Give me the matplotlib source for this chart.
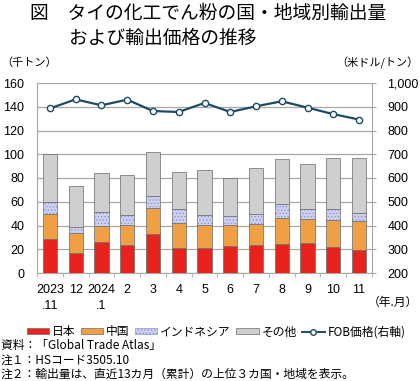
import numpy as np
import matplotlib
matplotlib.use('Agg')
import matplotlib.pyplot as plt
from matplotlib.patches import Patch
from matplotlib.lines import Line2D

plt.rcParams['font.family'] = ['Liberation Sans', 'Noto Sans CJK JP', 'DejaVu Sans']
plt.rcParams['hatch.linewidth'] = 0.6

months = ['2023\n.11', '12', '2024\n.1', '2', '3', '4', '5', '6', '7', '8', '9', '10', '11']
japan = [28.4, 16.8, 26.1, 23.3, 32.8, 21.1, 20.8, 22.5, 23.9, 24.7, 25.3, 22.2, 19.4]
china = [21.6, 16.6, 13.2, 17.4, 21.7, 20.7, 19.6, 17.6, 17.1, 21.9, 19.9, 22.2, 24.1]
indonesia = [9.8, 5.3, 12.3, 8.4, 10.6, 12.1, 8.2, 7.6, 8.4, 11.2, 9.0, 9.8, 6.7]
others = [40.4, 34.8, 32.3, 33.1, 37.1, 31.4, 38.1, 32.6, 39.0, 37.9, 37.9, 42.4, 46.9]
fob = [893, 931, 906, 930, 882, 878, 916, 878, 902, 923, 896, 869, 846]

W, H = 420, 381
fig = plt.figure(figsize=(W / 100, H / 100), dpi=100)

def px(x, y):
    return x / W, 1 - y / H

left, right, top, bottom = 37, 372, 83, 273
ax = fig.add_axes([left / W, 1 - bottom / H, (right - left) / W, (bottom - top) / H])

x = np.arange(len(months))
bw = 0.55
edge = '#6a6a6a'
b1 = np.array(japan)
b2 = b1 + np.array(china)
b3 = b2 + np.array(indonesia)
ax.bar(x, japan, bw, color='#e8221c', edgecolor=edge, linewidth=0.5, zorder=3)
ax.bar(x, china, bw, bottom=b1, color='#f0a044', edgecolor=edge, linewidth=0.5, zorder=3)
ax.bar(x, indonesia, bw, bottom=b2, color='#cdd0ee', edgecolor=edge, linewidth=0.5, zorder=3)
ax.bar(x, indonesia, bw, bottom=b2, fill=False, hatch='.....', edgecolor='#8e95d0', linewidth=0, zorder=3)
ax.bar(x, others, bw, bottom=b3, color='#cfcfcf', edgecolor=edge, linewidth=0.5, zorder=3)

ax.set_xlim(-0.5, len(months) - 0.5)
ax.set_ylim(0, 160)
ax.set_yticks(np.arange(0, 161, 20))
ax.grid(axis='y', color='#a8a8a8', linewidth=0.9, zorder=0)
ax.set_xticks(x)
ax.set_xticklabels(months, linespacing=1.45, fontsize=9)
ax.set_xticks(np.arange(-0.5, len(months), 1), minor=True)
ax.tick_params(axis='x', which='major', length=0, pad=8)
ax.tick_params(axis='x', which='minor', length=3, color='#a8a8a8')
ax.tick_params(axis='y', length=0, pad=9, labelsize=9)
for s in ['left', 'bottom', 'right']:
    ax.spines[s].set_color('#a8a8a8')
ax.spines['top'].set_visible(False)

ax2 = ax.twinx()
ax2.plot(x, fob, color='#1d4a64', linewidth=1.6, marker='o', markersize=4.5,
         markerfacecolor='white', markeredgecolor='#1d4a64', markeredgewidth=1.0, zorder=5)
ax2.set_ylim(200, 1000)
ax2.set_yticks(np.arange(200, 1001, 100))
ax2.set_yticklabels([f'{v:,}' for v in range(200, 1001, 100)])
ax2.tick_params(axis='y', length=3, color='#a8a8a8', pad=8, labelsize=9)
for s in ['left', 'bottom', 'right', 'top']:
    ax2.spines[s].set_visible(False)

jp = ['Noto Sans CJK JP', 'DejaVu Sans']
fig.text(*px(30, 13), '図\u3000タイの化工でん粉の国・地域別輸出量', family=jp,
         fontsize=13.5, va='center', ha='left')
fig.text(*px(69, 38), 'および輸出価格の推移', family=jp,
         fontsize=13.5, va='center', ha='left')
fig.text(*px(1, 63), '（千トン）', family=jp, fontsize=8, va='center', ha='left')
fig.text(*px(419, 63), '（米ドル/トン）', family=jp, fontsize=8, va='center', ha='right')
fig.text(*px(393, 302), '（年.月）', family=jp, fontsize=8.5, va='center', ha='center')

handles = [
    Patch(facecolor='#e8221c', edgecolor=edge, linewidth=0.5),
    Patch(facecolor='#f0a044', edgecolor=edge, linewidth=0.5),
    Patch(facecolor='#cdd0ee', edgecolor='#8e95d0', linewidth=0.5, hatch='.....'),
    Patch(facecolor='#cfcfcf', edgecolor=edge, linewidth=0.5),
    Line2D([], [], color='#1d4a64', linewidth=1.4, marker='o', markersize=4,
           markerfacecolor='white', markeredgecolor='#1d4a64'),
]
labels = ['日本', '中国', 'インドネシア', 'その他', 'FOB価格(右軸)']
fig.legend(handles, labels, loc='center', bbox_to_anchor=px(216, 332), ncol=5,
           frameon=False, prop={'family': jp, 'size': 8.5}, handlelength=1.9,
           handleheight=0.4, handletextpad=0.25, columnspacing=0.45)

notes = ['資料：「Global Trade Atlas」', '注１：HSコード3505.10',
         '注２：輸出量は、直近13カ月（累計）の上位３カ国・地域を表示。']
for i, n in enumerate(notes):
    fig.text(*px(1, 346 + i * 14), n, family=jp, fontsize=8.5, va='center', ha='left')

fig.savefig('out.png', dpi=100)
